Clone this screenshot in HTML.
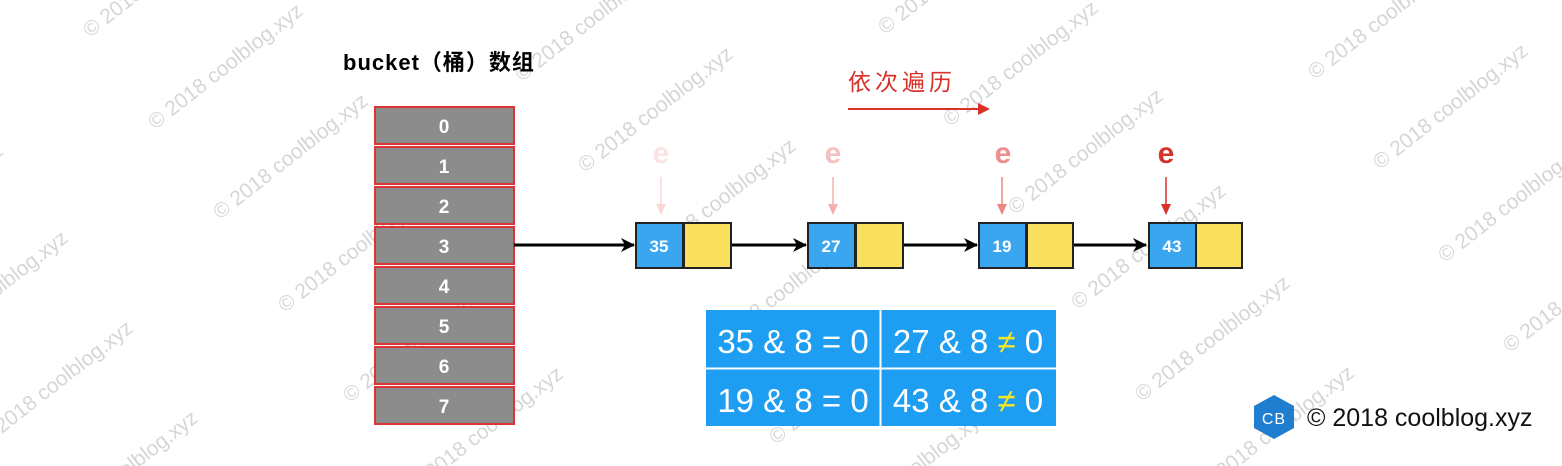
<!DOCTYPE html>
<html><head><meta charset="utf-8"><style>
html,body{margin:0;padding:0;background:#fff;overflow:hidden;width:1562px;height:466px;}
svg{display:block;}
</style></head><body>
<svg width="1562" height="466" viewBox="0 0 1562 466" xmlns="http://www.w3.org/2000/svg" font-family="'Liberation Sans','Noto Sans CJK SC',sans-serif">
<defs>
<marker id="ab" markerWidth="14" markerHeight="14" refX="13" refY="7" orient="auto" markerUnits="userSpaceOnUse" viewBox="0 0 14 14"><path d="M0,0 L14,7 L0,14 L4,7 z" fill="#000"/></marker>
</defs>
<!-- watermarks -->
<g font-size="21" fill="#c8c8c8" fill-opacity="0.75">
<g transform="translate(-275,87) rotate(-38)"><text>© 2018 coolblog.xyz</text></g>
<g transform="translate(-210,177) rotate(-38)"><text>© 2018 coolblog.xyz</text></g>
<g transform="translate(-145,270) rotate(-38)"><text>© 2018 coolblog.xyz</text></g>
<g transform="translate(-80,357) rotate(-38)"><text>© 2018 coolblog.xyz</text></g>
<g transform="translate(-15,447) rotate(-38)"><text>© 2018 coolblog.xyz</text></g>
<g transform="translate(50,537) rotate(-38)"><text>© 2018 coolblog.xyz</text></g>
<g transform="translate(90,38) rotate(-38)"><text>© 2018 coolblog.xyz</text></g>
<g transform="translate(155,130) rotate(-38)"><text>© 2018 coolblog.xyz</text></g>
<g transform="translate(220,220) rotate(-38)"><text>© 2018 coolblog.xyz</text></g>
<g transform="translate(285,313) rotate(-38)"><text>© 2018 coolblog.xyz</text></g>
<g transform="translate(350,403) rotate(-38)"><text>© 2018 coolblog.xyz</text></g>
<g transform="translate(415,493) rotate(-38)"><text>© 2018 coolblog.xyz</text></g>
<g transform="translate(522,82) rotate(-38)"><text>© 2018 coolblog.xyz</text></g>
<g transform="translate(585,173) rotate(-38)"><text>© 2018 coolblog.xyz</text></g>
<g transform="translate(648,265) rotate(-38)"><text>© 2018 coolblog.xyz</text></g>
<g transform="translate(712,355) rotate(-38)"><text>© 2018 coolblog.xyz</text></g>
<g transform="translate(776,445) rotate(-38)"><text>© 2018 coolblog.xyz</text></g>
<g transform="translate(840,535) rotate(-38)"><text>© 2018 coolblog.xyz</text></g>
<g transform="translate(885,35) rotate(-38)"><text>© 2018 coolblog.xyz</text></g>
<g transform="translate(950,127) rotate(-38)"><text>© 2018 coolblog.xyz</text></g>
<g transform="translate(1015,215) rotate(-38)"><text>© 2018 coolblog.xyz</text></g>
<g transform="translate(1078,310) rotate(-38)"><text>© 2018 coolblog.xyz</text></g>
<g transform="translate(1142,402) rotate(-38)"><text>© 2018 coolblog.xyz</text></g>
<g transform="translate(1206,492) rotate(-38)"><text>© 2018 coolblog.xyz</text></g>
<g transform="translate(1315,80) rotate(-38)"><text>© 2018 coolblog.xyz</text></g>
<g transform="translate(1380,170) rotate(-38)"><text>© 2018 coolblog.xyz</text></g>
<g transform="translate(1445,263) rotate(-38)"><text>© 2018 coolblog.xyz</text></g>
<g transform="translate(1510,353) rotate(-38)"><text>© 2018 coolblog.xyz</text></g>
</g>
<!-- bucket array -->
<text x="343" y="70" font-size="22" font-weight="bold" fill="#000" letter-spacing="1">bucket（桶）数组</text>
<g stroke="#d33" stroke-width="2" fill="#8c8c8c">
<rect x="375" y="107" width="139" height="37"/>
<rect x="375" y="147" width="139" height="37"/>
<rect x="375" y="187" width="139" height="37"/>
<rect x="375" y="227" width="139" height="37"/>
<rect x="375" y="267" width="139" height="37"/>
<rect x="375" y="307" width="139" height="37"/>
<rect x="375" y="347" width="139" height="37"/>
<rect x="375" y="387" width="139" height="37"/>
</g>
<g fill="#fff" font-size="19" font-weight="bold" text-anchor="middle">
<text x="444" y="133">0</text><text x="444" y="173">1</text><text x="444" y="213">2</text><text x="444" y="253">3</text>
<text x="444" y="293">4</text><text x="444" y="333">5</text><text x="444" y="373">6</text><text x="444" y="413">7</text>
</g>
<!-- arrows -->
<g stroke="#000" stroke-width="3">
<line x1="514" y1="245" x2="634" y2="245" marker-end="url(#ab)"/>
<line x1="731" y1="245" x2="806" y2="245" marker-end="url(#ab)"/>
<line x1="903" y1="245" x2="977" y2="245" marker-end="url(#ab)"/>
<line x1="1073" y1="245" x2="1146" y2="245" marker-end="url(#ab)"/>
</g>
<!-- nodes -->
<g stroke="#222" stroke-width="2">
<rect x="636" y="223" width="47" height="45" fill="#3aa6f0"/><rect x="684" y="223" width="47" height="45" fill="#f9e05e"/>
<rect x="808" y="223" width="47" height="45" fill="#3aa6f0"/><rect x="856" y="223" width="47" height="45" fill="#f9e05e"/>
<rect x="979" y="223" width="47" height="45" fill="#3aa6f0"/><rect x="1027" y="223" width="46" height="45" fill="#f9e05e"/>
<rect x="1149" y="223" width="47" height="45" fill="#3aa6f0"/><rect x="1196" y="223" width="46" height="45" fill="#f9e05e"/>
</g>
<g fill="#fff" font-size="17" font-weight="bold" text-anchor="middle">
<text x="659" y="252">35</text><text x="831" y="252">27</text><text x="1002" y="252">19</text><text x="1172" y="252">43</text>
</g>
<!-- e pointers -->
<g font-size="30" font-weight="bold" text-anchor="middle">
<text x="661" y="163" fill="#fbe3e3">e</text>
<text x="833" y="163" fill="#f6c0c0">e</text>
<text x="1003" y="163" fill="#ee8f8f">e</text>
<text x="1166" y="163" fill="#d9302a">e</text>
</g>
<g stroke-width="1.5">
<line x1="661" y1="177" x2="661" y2="205" stroke="#fbd8d8"/><path d="M656,204 L661,215 L666,204 z" fill="#fbd8d8"/>
<line x1="833" y1="177" x2="833" y2="205" stroke="#f4b0b0"/><path d="M828,204 L833,215 L838,204 z" fill="#f4b0b0"/>
<line x1="1002" y1="177" x2="1002" y2="205" stroke="#ec8585"/><path d="M997,204 L1002,215 L1007,204 z" fill="#ec8585"/>
<line x1="1166" y1="177" x2="1166" y2="205" stroke="#d9302a"/><path d="M1161,204 L1166,215 L1171,204 z" fill="#d9302a"/>
</g>
<!-- traversal -->
<text x="848" y="90" font-size="23" fill="#d9302a" letter-spacing="4">依次遍历</text>
<line x1="848" y1="109" x2="980" y2="109" stroke="#d9302a" stroke-width="2"/>
<path d="M978,103 L990,109 L978,115 z" fill="#d9302a"/>
<!-- table -->
<rect x="706" y="310" width="350" height="116" fill="#1e9ef2"/>
<line x1="880.5" y1="310" x2="880.5" y2="426" stroke="#fff" stroke-width="2"/>
<line x1="706" y1="368.5" x2="1056" y2="368.5" stroke="#fff" stroke-width="2"/>
<g fill="#fff" font-size="33" text-anchor="middle">
<text x="793" y="353">35 &amp; 8 = 0</text>
<text x="968" y="353">27 &amp; 8 <tspan fill="#f5e62a">≠</tspan> 0</text>
<text x="793" y="412">19 &amp; 8 = 0</text>
<text x="968" y="412">43 &amp; 8 <tspan fill="#f5e62a">≠</tspan> 0</text>
</g>
<!-- logo -->
<path d="M1274,395 L1294,406 L1294,428 L1274,439 L1254,428 L1254,406 z" fill="#1f7ed0"/>
<text x="1274" y="424" font-size="16" fill="#fff" text-anchor="middle" letter-spacing="1">CB</text>
<text x="1307" y="426" font-size="25" fill="#111">© 2018 coolblog.xyz</text>
</svg>
</body></html>
